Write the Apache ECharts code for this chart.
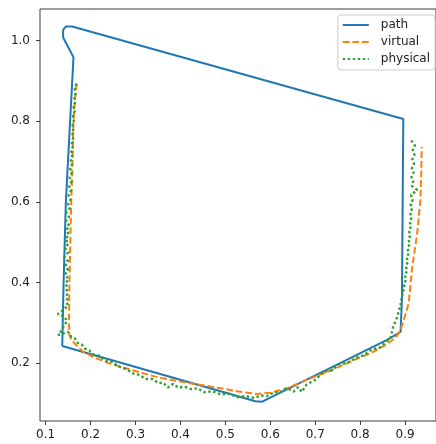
<!DOCTYPE html>
<html>
<head>
<meta charset="utf-8">
<script src="https://cdn.jsdelivr.net/npm/echarts@6/dist/echarts.min.js"></script>
<style>
  html, body { margin: 0; padding: 0; background: #fff; }
  #chart { width: 436px; height: 444px; }
</style>
</head>
<body>
<div id="chart"></div>
<script>
const xTicks = [0.1, 0.2, 0.3, 0.4, 0.5, 0.6, 0.7, 0.8, 0.9]
const yTicks = [0.2, 0.4, 0.6, 0.8, 1.0]

const pathData = [
  [0.137, 0.243], [0.140, 0.40], [0.145, 0.60], [0.162, 0.959],
  [0.139, 1.008], [0.139, 1.027], [0.145, 1.035], [0.159, 1.035],
  [0.896, 0.806], [0.893, 0.36], [0.890, 0.278], [0.860, 0.258],
  [0.582, 0.105], [0.567, 0.106], [0.137, 0.243]
]

const virtualData = [
  [0.169, 0.894], [0.165, 0.85], [0.162, 0.80], [0.160, 0.70], [0.157, 0.60],
  [0.155, 0.50], [0.153, 0.40], [0.152, 0.30], [0.153, 0.270], [0.158, 0.258],
  [0.164, 0.250], [0.183, 0.229], [0.205, 0.216], [0.241, 0.200], [0.278, 0.188],
  [0.315, 0.176], [0.351, 0.165], [0.390, 0.157], [0.424, 0.150], [0.458, 0.144],
  [0.490, 0.138], [0.530, 0.130], [0.571, 0.124], [0.600, 0.127], [0.637, 0.138],
  [0.681, 0.159], [0.720, 0.176], [0.754, 0.192], [0.790, 0.210], [0.827, 0.227],
  [0.857, 0.246], [0.877, 0.262], [0.888, 0.278], [0.897, 0.307], [0.908, 0.349],
  [0.916, 0.44], [0.927, 0.522], [0.934, 0.605], [0.936, 0.67], [0.937, 0.737]
]

// noisy tracked positions: left side (top to bottom)
const physicalLeft = [
  [0.169, 0.893], [0.164, 0.882], [0.168, 0.871], [0.163, 0.860], [0.167, 0.849],
  [0.161, 0.838], [0.166, 0.827], [0.160, 0.816], [0.164, 0.805], [0.159, 0.794],
  [0.163, 0.783], [0.158, 0.772], [0.163, 0.761], [0.157, 0.750], [0.162, 0.739],
  [0.156, 0.728], [0.161, 0.717], [0.155, 0.706], [0.160, 0.695], [0.154, 0.684],
  [0.159, 0.673], [0.153, 0.662], [0.158, 0.651], [0.152, 0.640], [0.157, 0.629],
  [0.151, 0.618], [0.156, 0.607], [0.150, 0.596], [0.154, 0.585], [0.146, 0.574],
  [0.152, 0.563], [0.145, 0.552], [0.153, 0.541], [0.146, 0.530], [0.152, 0.519],
  [0.144, 0.508], [0.151, 0.497], [0.143, 0.486], [0.150, 0.475], [0.142, 0.464],
  [0.150, 0.453], [0.144, 0.442], [0.150, 0.431], [0.143, 0.420], [0.151, 0.409],
  [0.144, 0.398], [0.149, 0.387], [0.145, 0.376], [0.150, 0.365], [0.146, 0.354],
  [0.150, 0.343], [0.139, 0.332], [0.127, 0.322], [0.141, 0.316], [0.148, 0.305],
  [0.141, 0.294], [0.136, 0.282], [0.128, 0.270], [0.150, 0.278], [0.157, 0.266]
]

// bottom edge (left to right)
const physicalBottom = [
  [0.165, 0.262], [0.172, 0.250], [0.180, 0.247], [0.188, 0.236], [0.197, 0.232],
  [0.208, 0.221], [0.219, 0.219], [0.232, 0.207], [0.249, 0.203], [0.262, 0.192],
  [0.278, 0.186], [0.295, 0.175], [0.310, 0.171], [0.322, 0.161], [0.338, 0.161],
  [0.351, 0.151], [0.362, 0.152], [0.372, 0.140], [0.384, 0.149], [0.395, 0.140],
  [0.410, 0.142], [0.424, 0.136], [0.438, 0.138], [0.454, 0.128], [0.470, 0.131],
  [0.490, 0.123], [0.508, 0.125], [0.527, 0.116], [0.545, 0.119], [0.564, 0.114],
  [0.580, 0.120], [0.593, 0.119], [0.608, 0.128], [0.622, 0.128], [0.637, 0.139],
  [0.652, 0.130], [0.662, 0.141], [0.670, 0.129], [0.681, 0.148], [0.699, 0.158],
  [0.718, 0.179], [0.736, 0.182], [0.754, 0.198], [0.772, 0.201], [0.791, 0.214],
  [0.808, 0.220], [0.827, 0.235], [0.842, 0.238], [0.857, 0.252], [0.868, 0.264],
  [0.873, 0.289], [0.879, 0.305], [0.884, 0.320]
]

// right side (bottom to top)
const physicalRight = [
  [0.886, 0.332], [0.891, 0.343], [0.889, 0.353], [0.895, 0.364], [0.893, 0.375],
  [0.899, 0.386], [0.897, 0.397], [0.903, 0.408], [0.899, 0.419], [0.905, 0.430],
  [0.901, 0.441], [0.907, 0.452], [0.903, 0.463], [0.909, 0.474], [0.905, 0.485],
  [0.911, 0.496], [0.907, 0.507], [0.912, 0.518], [0.908, 0.529], [0.914, 0.540],
  [0.910, 0.551], [0.915, 0.562], [0.911, 0.573], [0.916, 0.584], [0.912, 0.595],
  [0.917, 0.606], [0.913, 0.617], [0.927, 0.630], [0.915, 0.640], [0.918, 0.651],
  [0.914, 0.662], [0.919, 0.673], [0.915, 0.684], [0.920, 0.695], [0.916, 0.706],
  [0.921, 0.717], [0.917, 0.728], [0.922, 0.739], [0.918, 0.747], [0.912, 0.754]
]

const physicalData = [...physicalLeft, ...physicalBottom, ...physicalRight]

const font = 'DejaVu Sans'
const axisColor = '#3c3c3c'

const chart = echarts.init(document.getElementById('chart'))

const lineSeries = (name, data, color, type, width) => ({
  name,
  type: 'line',
  data,
  symbol: 'none',
  lineStyle: { color, width, type, cap: 'butt' },
  itemStyle: { color },
})

chart.setOption({
  animation: false,
  backgroundColor: '#fff',
  grid: {
    left: 40,
    right: -5,
    top: 9,
    bottom: 23,
    show: true,
    borderColor: axisColor,
    borderWidth: 1,
  },
  legend: {
    orient: 'vertical',
    right: 1,
    top: 15,
    padding: [4, 5, 5, 4],
    itemWidth: 26,
    itemHeight: 14,
    itemGap: 5,
    backgroundColor: 'rgba(255,255,255,0.8)',
    borderColor: '#cccccc',
    borderWidth: 1,
    borderRadius: 3,
    itemStyle: { opacity: 0 },
    textStyle: { fontFamily: font, fontSize: 12, color: '#222', padding: [0, 0, 0, 7] },
    data: ['path', 'virtual', 'physical'],
  },
  xAxis: {
    type: 'value',
    min: 0.0875,
    max: 0.9688,
    splitLine: { show: false },
    axisLine: { show: false },
    axisTick: { show: true, length: 4, customValues: xTicks, lineStyle: { color: axisColor } },
    axisLabel: {
      customValues: xTicks,
      margin: 8,
      fontFamily: font,
      fontSize: 12,
      color: '#222',
      formatter: (v) => v.toFixed(1),
    },
  },
  yAxis: {
    type: 'value',
    min: 0.057,
    max: 1.0786,
    splitLine: { show: false },
    axisLine: { show: false },
    axisTick: { show: true, length: 4, customValues: yTicks, lineStyle: { color: axisColor } },
    axisLabel: {
      customValues: yTicks,
      margin: 10,
      fontFamily: font,
      fontSize: 12,
      color: '#222',
      formatter: (v) => v.toFixed(1),
    },
  },
  series: [
    lineSeries('path', pathData, '#1f77b4', 'solid', 2),
    lineSeries('virtual', virtualData, '#ff7f0e', [6.7, 2.9], 2),
    lineSeries('physical', physicalData, '#2ca02c', [2.4, 2.6], 2.4),
  ],
})
</script>
</body>
</html>
